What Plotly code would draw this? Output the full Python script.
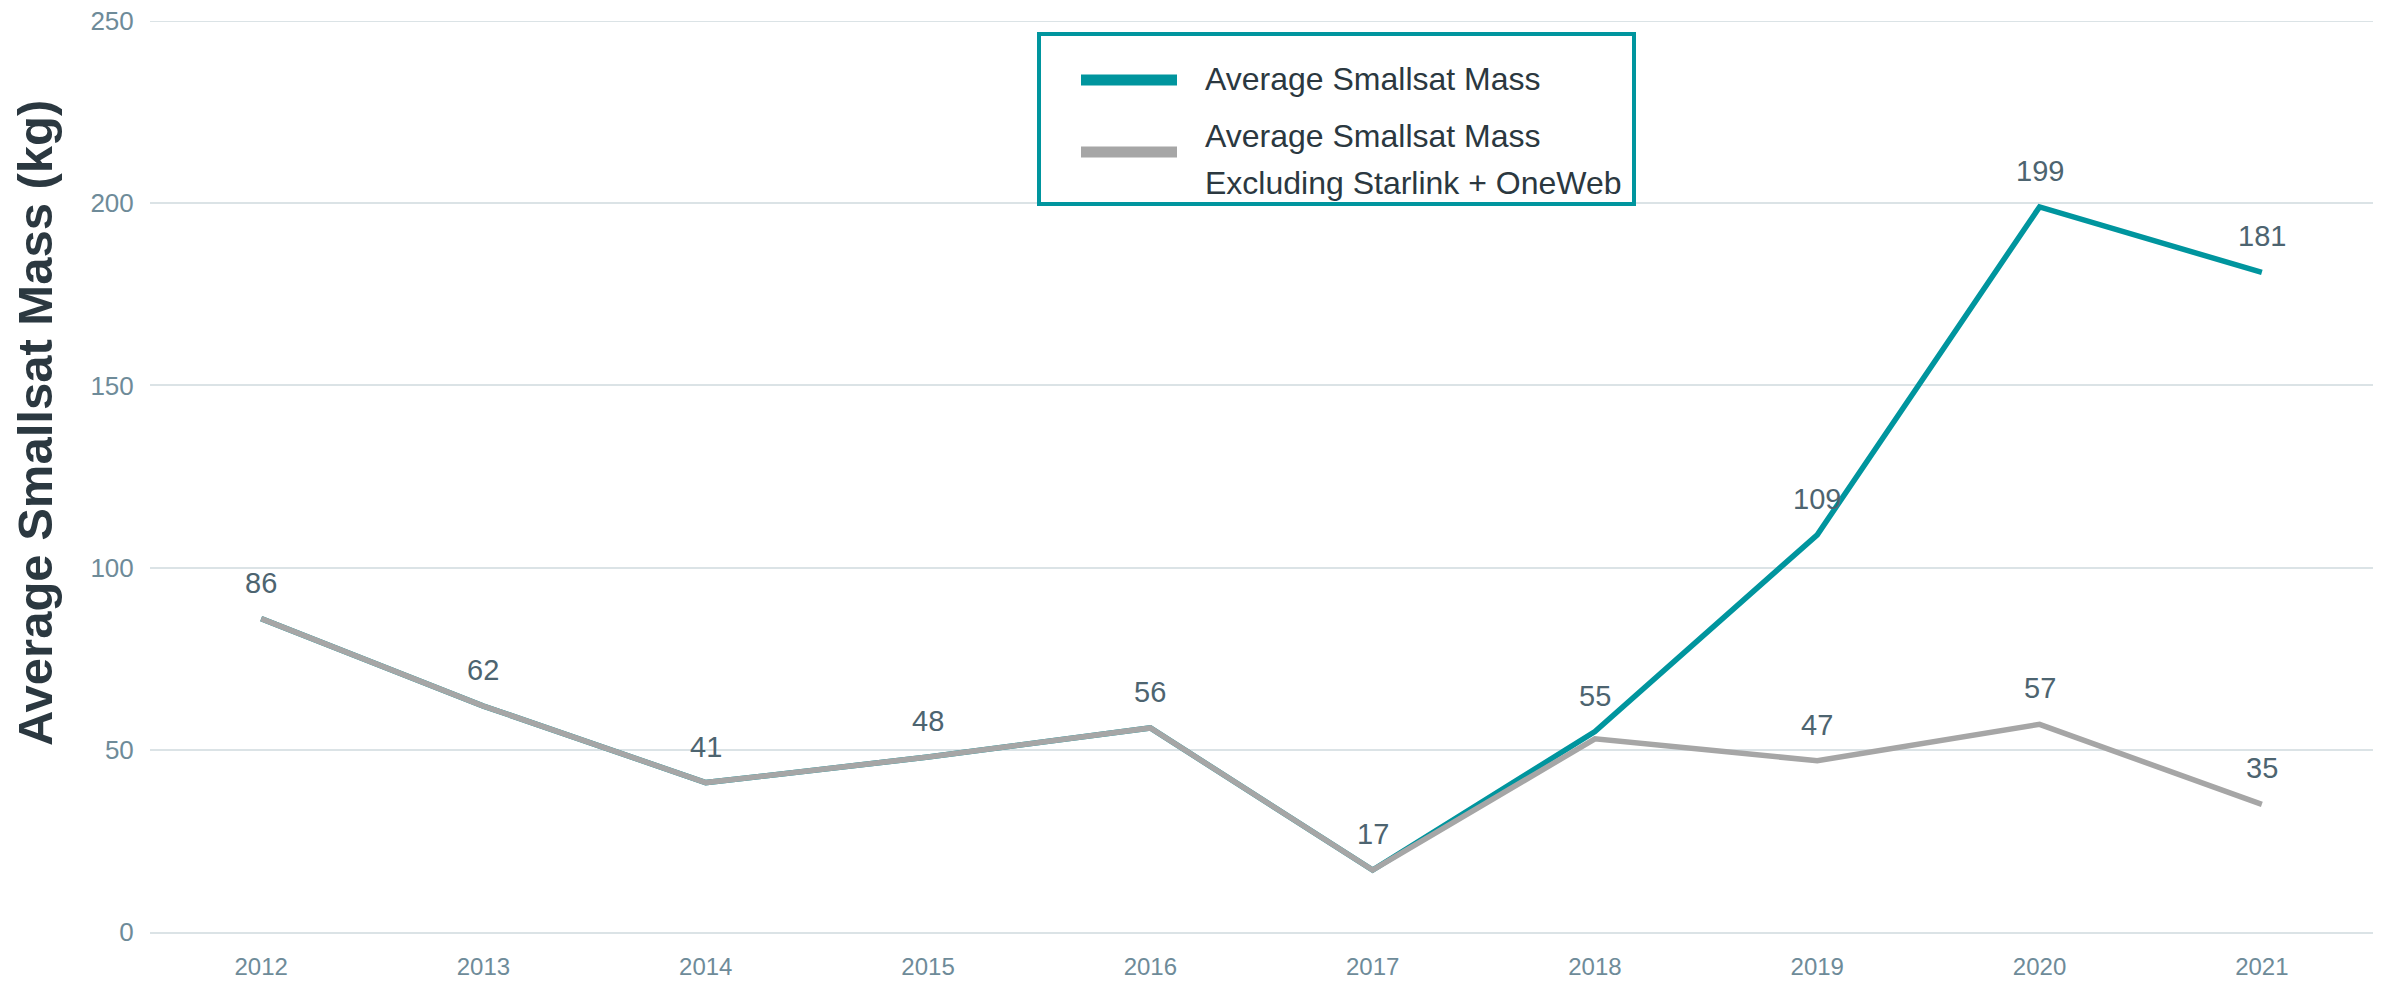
import plotly.graph_objects as go

years = ["2012", "2013", "2014", "2015", "2016", "2017", "2018", "2019", "2020", "2021"]
avg_mass = [86, 62, 41, 48, 56, 17, 55, 109, 199, 181]
avg_mass_excl = [86, 62, 41, 48, 56, 17, 53, 47, 57, 35]
labels_total = ["", "", "", "", "", "", "55", "109", "199", "181"]
labels_excl = ["86", "62", "41", "48", "56", "17", "", "47", "57", "35"]
y_ticks = [0, 50, 100, 150, 200, 250]

TEAL = "#00959e"
GRAY = "#a6a6a6"
LABEL = "#4d6470"
TICK = "#6e8b99"
GRID = "#dbe3e6"

W, H = 2392, 984
L, R, T, B = 150, 2373, 21, 932   # plot area in page pixels (body margin removed)


def px_x(p):
    return (p - L) / (R - L)


def px_y(p):
    return (B - p) / (B - T)


fig = go.Figure()
fig.add_trace(go.Scatter(x=years, y=avg_mass, mode="lines", name="Average Smallsat Mass",
                         line=dict(color=TEAL, width=5.5), showlegend=False))
fig.add_trace(go.Scatter(x=years, y=avg_mass_excl, mode="lines",
                         name="Average Smallsat Mass Excluding Starlink + OneWeb",
                         line=dict(color=GRAY, width=5.5), showlegend=False))

annotations = []
lab_font = dict(family="Liberation Sans, Arial", size=29, color=LABEL)
for i, (y, t) in enumerate(zip(avg_mass, labels_total)):
    if t:
        annotations.append(dict(x=i, y=y, xref="x", yref="y", text=t, showarrow=False, yshift=36,
                                font=lab_font))
for i, (y, t) in enumerate(zip(avg_mass_excl, labels_excl)):
    if t:
        annotations.append(dict(x=i, y=y, xref="x", yref="y", text=t, showarrow=False, yshift=36,
                                font=lab_font))

# y-axis title
annotations.append(dict(xref="paper", yref="paper", x=px_x(35), y=px_y(423),
                        text="<b>Average Smallsat Mass (kg)</b>", textangle=-90, showarrow=False,
                        xanchor="center", yanchor="middle",
                        font=dict(family="Liberation Sans, Arial", size=49, color="#2b3840")))

# manual legend
leg_font = dict(family="Liberation Sans, Arial", size=32, color="#2b3840")
for yy, txt in [(79, "Average Smallsat Mass"), (136, "Average Smallsat Mass"),
                (183, "Excluding Starlink + OneWeb")]:
    annotations.append(dict(xref="paper", yref="paper", x=px_x(1203), y=px_y(yy), text=txt,
                            showarrow=False, xanchor="left", yanchor="middle", font=leg_font))

shapes = [
    # top gridline (at the edge of the range, not drawn by the axis itself)
    dict(type="line", xref="paper", yref="y", x0=0, x1=1, y0=y_ticks[-1], y1=y_ticks[-1],
         line=dict(color=GRID, width=2), layer="below"),
    dict(type="rect", xref="paper", yref="paper", x0=px_x(1039), x1=px_x(1634), y0=px_y(204), y1=px_y(34),
         line=dict(color=TEAL, width=4), fillcolor="white", layer="above"),
    dict(type="line", xref="paper", yref="paper", x0=px_x(1081), x1=px_x(1177), y0=px_y(80), y1=px_y(80),
         line=dict(color=TEAL, width=11), layer="above"),
    dict(type="line", xref="paper", yref="paper", x0=px_x(1081), x1=px_x(1177), y0=px_y(152), y1=px_y(152),
         line=dict(color=GRAY, width=11), layer="above"),
]

fig.update_layout(
    width=W, height=H,
    margin=dict(l=L, r=W - R, t=T, b=H - B, autoexpand=False),
    paper_bgcolor="white", plot_bgcolor="white",
    annotations=annotations, shapes=shapes,
    showlegend=False,
    xaxis=dict(type="category", range=[-0.5, 9.5], showgrid=False, zeroline=False, automargin=False,
               showline=True, linecolor=GRID, linewidth=2, ticklabeloverflow="allow",
               ticks="outside", ticklen=12, tickcolor="rgba(0,0,0,0)",
               tickfont=dict(family="Liberation Sans, Arial", size=24, color=TICK)),
    yaxis=dict(range=[0, 250], tickvals=y_ticks, showgrid=True, gridcolor=GRID, gridwidth=2,
               automargin=False, ticklabeloverflow="allow",
               zeroline=False, showline=False, ticks="outside", ticklen=10, tickcolor="rgba(0,0,0,0)",
               tickfont=dict(family="Liberation Sans, Arial", size=26, color=TICK)),
)

fig.write_html("out.html", config={"displayModeBar": False},
               post_script="document.body.style.margin='0';document.body.style.overflow='hidden';")
